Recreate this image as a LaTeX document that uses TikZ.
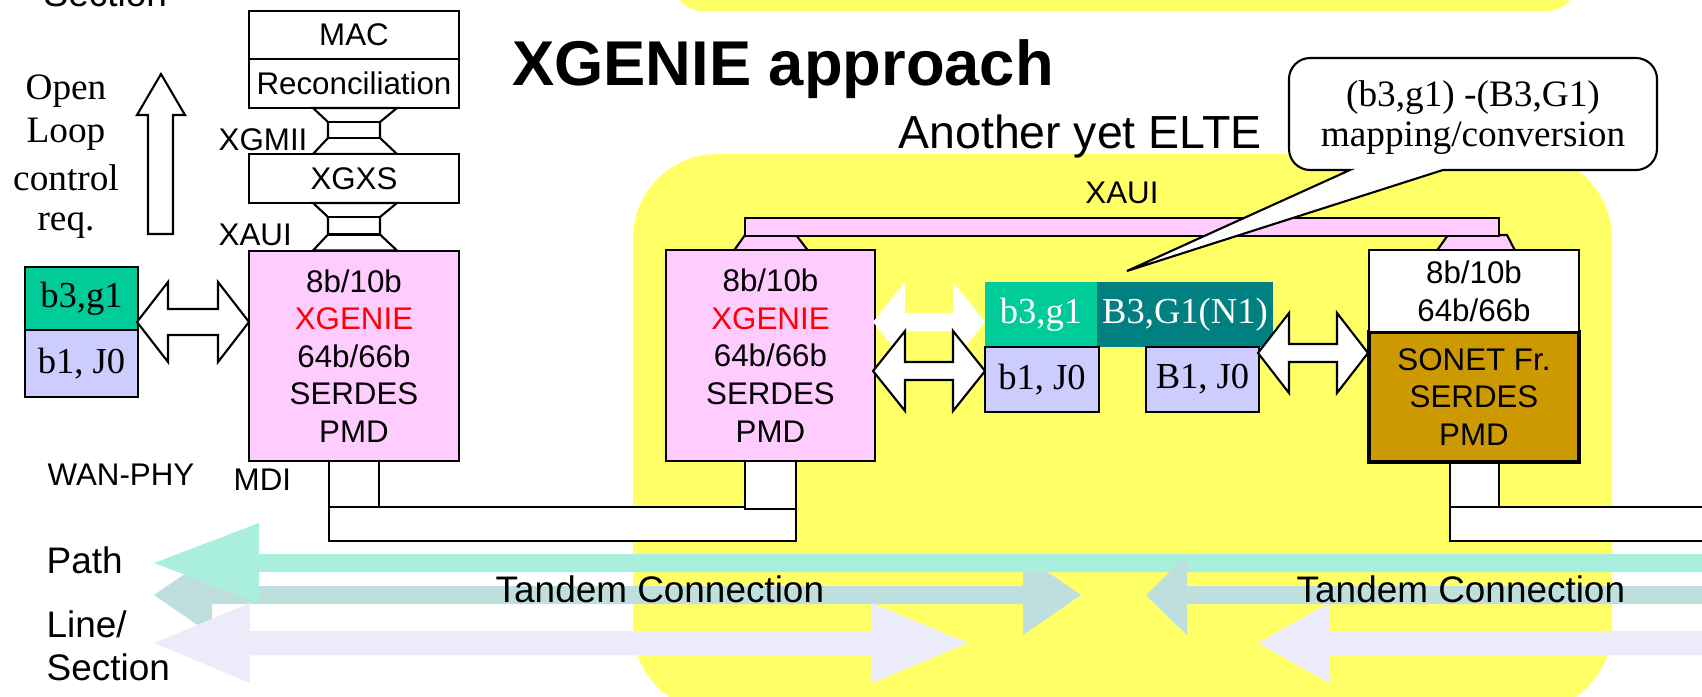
\documentclass[tikz,border=0pt]{standalone}
\usepackage{fontspec}
\setmainfont{Liberation Sans}
\newfontfamily\serifff{Liberation Serif}
\definecolor{yel}{HTML}{FFFF66}
\definecolor{pnk}{HTML}{FFCCFF}
\definecolor{grn}{HTML}{00CC99}
\definecolor{tel}{HTML}{008080}
\definecolor{lav}{HTML}{CCCCFF}
\definecolor{sonc}{HTML}{CC9900}
\definecolor{mnt}{HTML}{AAEEDD}
\definecolor{tnd}{HTML}{BFDFDF}
\definecolor{lsc}{HTML}{EBEBFA}
\newcommand\dblarr[7]{\path[#1] (#2,#4) -- (#2+#5,#4-#6) -- (#2+#5,#4-#7) -- (#3-#5,#4-#7) -- (#3-#5,#4-#6) -- (#3,#4) -- (#3-#5,#4+#6) -- (#3-#5,#4+#7) -- (#2+#5,#4+#7) -- (#2+#5,#4+#6) -- cycle;}
\newcommand\lftarr[7]{\path[#1] (#2,#4) -- (#2+#5,#4-#6) -- (#2+#5,#4-#7) -- (#3,#4-#7) -- (#3,#4+#7) -- (#2+#5,#4+#7) -- (#2+#5,#4+#6) -- cycle;}
\newcommand\hglass[2]{\draw[fill=white, line width=0.6pt] (313,#1) -- (328,#1+14) -- (328,#2-16) -- (313,#2) -- (397,#2) -- (380,#2-16) -- (380,#1+14) -- (397,#1) -- cycle; \draw[line width=0.6pt] (328,#1+14) -- (380,#1+14) (328,#2-16) -- (380,#2-16);}
\begin{document}
\begin{tikzpicture}[x=0.01cm,y=-0.01cm,
  box/.style={draw, line width=0.6pt, inner sep=0pt, align=center, font=\fontsize{8.9}{10.7}\selectfont},
  sbox/.style={box, font=\serifff\fontsize{10.4}{12}\selectfont},
  lbl/.style={inner sep=0pt, font=\fontsize{8.9}{10.7}\selectfont},
  big/.style={inner sep=0pt, font=\fontsize{10.5}{12.6}\selectfont},
  slbl/.style={inner sep=0pt, font=\serifff\fontsize{10.6}{12.4}\selectfont},
  outl/.style={draw, line width=0.6pt, fill=white}]
\clip (0,0) rectangle (1702,697);
% yellow backgrounds
\fill[yel, rounded corners=24pt] (633,154) rectangle (1612,712);
\fill[yel, rounded corners=8.5pt] (673,-100) rectangle (1577,11);
\node[big, anchor=base west] (sec0) at (43,6) {Section};
% left stack
\node[box, fill=white, minimum width=2.10cm, minimum height=0.48cm] (mac) at (354,35) {MAC};
\node[box, fill=white, minimum width=2.10cm, minimum height=0.49cm] (rec) at (354,83.5) {Reconciliation};
\hglass{108}{154}
\node[box, fill=white, minimum width=2.10cm, minimum height=0.49cm] (xgxs) at (354,178.5) {XGXS};
\hglass{203}{250.5}
\node[box, fill=pnk, minimum width=2.10cm, minimum height=2.10cm] (pk1) at (354,356) {8b/10b\\\textcolor{red}{XGENIE}\\64b/66b\\SERDES\\PMD};
\node[lbl, anchor=base west] (xgmii) at (218,150) {XGMII};
\node[lbl, anchor=base west] (xaui1) at (218,245) {XAUI};
\node[lbl, anchor=base west] (wan) at (47,485) {WAN-PHY};
\node[lbl, anchor=base west] (mdi) at (233,490) {MDI};
% open loop
\node[slbl, anchor=base] (ol1) at (66,100) {Open};
\node[slbl, anchor=base] (ol2) at (66,142) {Loop};
\node[slbl, anchor=base] (ol3) at (66,190) {control};
\node[slbl, anchor=base] (ol4) at (66,230) {req.};
\draw[outl] (161,74) -- (185,115) -- (173,115) -- (173,234) -- (148,234) -- (148,115) -- (137,115) -- cycle;
% left overhead boxes
\node[sbox, fill=grn, minimum width=1.13cm, minimum height=0.63cm] (lg) at (81.5,298.5) {b3,g1};
\node[sbox, fill=lav, minimum width=1.13cm, minimum height=0.67cm] (lb) at (81.5,363.5) {b1, J0};
\dblarr{outl}{137}{249}{322}{31}{40}{13}
% MDI links left
\draw[outl] (329,507) rectangle (796,541);
\draw[outl] (329,461) rectangle (379,507);
\draw[outl] (745,461) rectangle (796,509);
% XAUI bus
\draw[outl, fill=pnk] (734,250.5) -- (745,235) -- (796,235) -- (808,250.5) -- cycle;
\draw[outl, fill=pnk] (1437,250.5) -- (1448,235) -- (1507,235) -- (1515,250.5) -- cycle;
\draw[outl, fill=pnk] (745,218) rectangle (1499,236);
\node[lbl, anchor=base] (xaui2) at (1122,203) {XAUI};
% middle box
\node[box, fill=pnk, minimum width=2.09cm, minimum height=2.11cm] (pk2) at (770.5,355.5) {8b/10b\\\textcolor{red}{XGENIE}\\64b/66b\\SERDES\\PMD};
\dblarr{fill=white}{873}{985}{322}{32}{40}{9}
\dblarr{outl}{873}{985}{371}{32}{40}{9}
\node[sbox, draw=none, fill=grn, text=white, minimum width=1.12cm, minimum height=0.65cm] (mg) at (1041,314.5) {b3,g1};
\node[sbox, draw=none, fill=tel, text=white, minimum width=1.76cm, minimum height=0.65cm] (mt) at (1185,314.5) {B3,G1(N1)};
\node[sbox, fill=lav, minimum width=1.14cm, minimum height=0.65cm] (mb) at (1042,379.5) {b1, J0};
\node[sbox, fill=lav, minimum width=1.13cm, minimum height=0.65cm] (mB) at (1202.5,379.5) {B1, J0};
% right side
\dblarr{outl}{1258}{1368}{353}{31}{40}{9}
\draw[outl] (1450,507) rectangle (1720,541);
\draw[outl] (1450,462) rectangle (1499,507);
\node[box, fill=sonc, line width=1.3pt, minimum width=2.10cm, minimum height=1.30cm] (son) at (1474,397) {SONET Fr.\\SERDES\\PMD};
\node[box, fill=white, minimum width=2.10cm, minimum height=0.82cm] (wb) at (1474,291) {8b/10b\\64b/66b};
% callout
\draw[outl] (1127,271) -- (1443,170) [rounded corners=6pt] -- (1657,170) -- (1657,58) -- (1289,58) -- (1289,170) [sharp corners] -- (1350,170) -- cycle;
\node[slbl, align=center, font=\serifff\fontsize{10.6}{11.4}\selectfont] (callt) at (1473,118) {(b3,g1) -(B3,G1)\\mapping/conversion};
% bottom arrows
\dblarr{fill=tnd}{154}{1081}{595}{58}{40}{9}
\lftarr{fill=mnt}{154}{1720}{563}{105}{40}{9}
\lftarr{fill=tnd}{1146}{1720}{595}{41}{40}{9}
\dblarr{fill=lsc}{154}{968}{643}{96}{40}{12}
\lftarr{fill=lsc}{1258}{1720}{643}{71}{40}{12}
\node[big, anchor=base west] (path) at (46,573) {Path};
\node[big, anchor=base west] (line) at (46,637) {Line/};
\node[big, anchor=base west] (sect) at (46,680) {Section};
\node[big, anchor=base west] (tc1) at (495,602) {Tandem Connection};
\node[big, anchor=base west] (tc2) at (1296,602) {Tandem Connection};
% titles
\node[inner sep=0pt, anchor=base, font=\bfseries\fontsize{18}{20}\selectfont] (title) at (783,85) {XGENIE approach};
\node[inner sep=0pt, anchor=base, font=\fontsize{13.2}{15}\selectfont] (ayl) at (1080,148) {Another yet ELTE};
\end{tikzpicture}
\end{document}
